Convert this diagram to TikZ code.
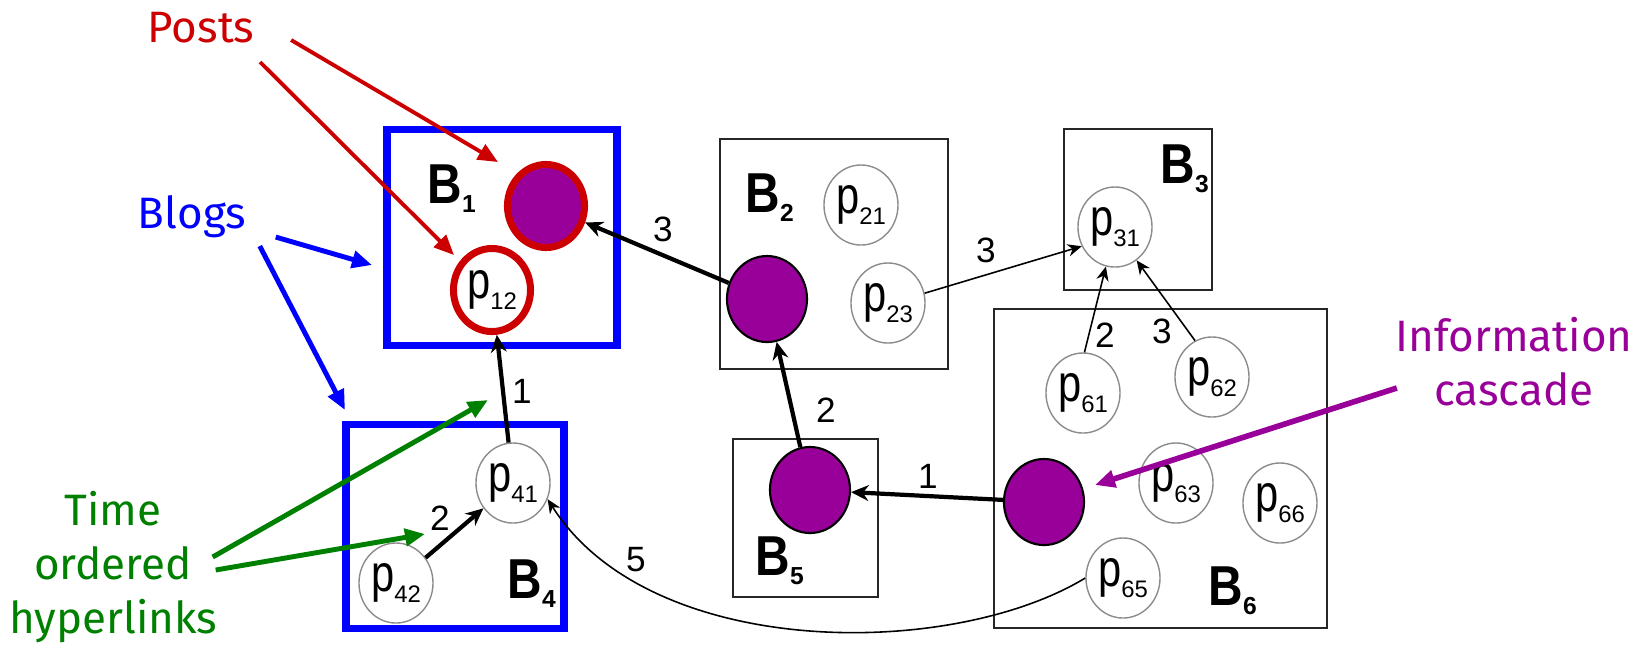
\documentclass[tikz,border=0pt]{standalone}
\usepackage{graphicx}
\usepackage{fontspec}
\setmainfont{Liberation Sans}
\newfontfamily\annfont{Fira Sans}
\usetikzlibrary{shapes, arrows.meta, positioning, calc}
\definecolor{blogblue}{RGB}{0, 0, 255}
\definecolor{postred}{RGB}{204, 0, 0}
\definecolor{linkgreen}{RGB}{0, 128, 0}
\definecolor{cascpurple}{RGB}{153, 0, 153}
\newcommand{\plab}[1]{{\fontsize{14.8pt}{15pt}\selectfont\scalebox{0.8}[1]{p}}\raisebox{-3pt}{\fontsize{6.8pt}{7pt}\selectfont #1}}
\newcommand{\blab}[1]{{\fontsize{16pt}{16pt}\selectfont\bfseries\scalebox{0.85}[1]{B}}\raisebox{-2.8pt}{\fontsize{7pt}{7pt}\selectfont\bfseries #1}}

\begin{document}
\begin{tikzpicture}[
  x=0.01cm, y=-0.01cm,
  blog/.style={draw=black!85, line width=0.7pt},
  myblog/.style={draw=blogblue, line width=2pt},
  post/.style={ellipse, draw=black!45, line width=0.4pt, fill=white, minimum width=0.74cm, minimum height=0.80cm, inner sep=0pt},
  hot/.style={post, draw=black, fill=cascpurple, line width=0.6pt, minimum width=0.80cm, minimum height=0.86cm},
  ring/.style={draw=postred, line width=2pt, minimum width=0.77cm, minimum height=0.83cm},
  blabel/.style={anchor=base west, inner sep=0pt},
  num/.style={font=\fontsize{10pt}{10pt}\selectfont, inner sep=0pt},
  link/.style={-{Stealth[length=5pt, width=4.5pt]}, line width=1.2pt},
  thinlink/.style={-{Stealth[length=4pt, width=3.5pt]}, line width=0.45pt},
  note/.style={font={\annfont\fontsize{12.5pt}{15.4pt}\selectfont}, inner sep=0pt, align=center},
  pointer/.style={-{Triangle[length=0.2cm, width=0.17cm]}, line width=1.4pt}
]
  \useasboundingbox (0,0) rectangle (1650,647);

  % blogs
  \draw[myblog] (387,129) rectangle (617,345);
  \draw[myblog] (346,424) rectangle (564,628);
  \draw[blog] (720,139) rectangle (948,369);
  \draw[blog] (1064,129) rectangle (1212,290);
  \draw[blog] (733,439) rectangle (878,597);
  \draw[blog] (994,309) rectangle (1327,628);

  \node[blabel] (b1) at (427,203) {\blab{1}};
  \node[blabel] (b2) at (745,212) {\blab{2}};
  \node[blabel] (b3) at (1160,183) {\blab{3}};
  \node[blabel] (b4) at (507,598) {\blab{4}};
  \node[blabel] (b5) at (755,575) {\blab{5}};
  \node[blabel] (b6) at (1208,605) {\blab{6}};

  % posts
  \node[hot, ring] (p11) at (546,206) {};
  \node[post, ring] (p12) at (492,290) {\plab{12}};
  \node[post] (p21) at (861,205) {\plab{21}};
  \node[hot] (p22) at (767,299) {};
  \node[post] (p23) at (888,303) {\plab{23}};
  \node[post] (p31) at (1115,227) {\plab{31}};
  \node[post] (p41) at (513,483) {\plab{41}};
  \node[post] (p42) at (396,583) {\plab{42}};
  \node[hot] (p51) at (810,490) {};
  \node[post] (p61) at (1083,393) {\plab{61}};
  \node[post] (p62) at (1212,377) {\plab{62}};
  \node[post] (p63) at (1176,483) {\plab{63}};
  \node[hot] (p64) at (1044,502) {};
  \node[post] (p65) at (1123,578) {\plab{65}};
  \node[post] (p66) at (1280,503) {\plab{66}};

  % hyperlinks
  \draw[link] (p22) -- (p11);
  \draw[link] (p41) -- (p12);
  \draw[link] (p42) -- (p41);
  \draw[link] (p51) -- (p22);
  \draw[link] (p64) -- (p51);
  \draw[thinlink] (p23.15) -- (p31.210);
  \draw[thinlink] (p61.88) -- (p31.-103);
  \draw[thinlink] (p62.115) -- (p31.-57);
  \draw[thinlink] (p65.west) .. controls (950,660) and (650,660) .. (p41.-25);

  \node[num] (n1) at (663,229) {3};
  \node[num] (n2) at (522,391) {1};
  \node[num] (n3) at (440,518) {2};
  \node[num] (n4) at (826,410) {2};
  \node[num] (n5) at (928,476) {1};
  \node[num] (n6) at (986,250) {3};
  \node[num] (n7) at (1105,335) {2};
  \node[num] (n8) at (1162,331) {3};
  \node[num] (n9) at (636,560) {5};

  % annotations
  \node[note, text=postred] (posts) at (201,28) {Posts};
  \node[note, text=blogblue, anchor=base] (blogs) at (192,228) {Blogs};
  \node[note, text=linkgreen] (links) at (113,567) {Time\\ordered\\hyperlinks};
  \node[note, text=cascpurple] (cascade) at (1514,362) {Information\\cascade};

  \coordinate (posts-a) at (498,162);
  \coordinate (posts-b) at (454,255);
  \coordinate (blogs-a) at (372,265);
  \coordinate (blogs-b) at (345,410);
  \coordinate (links-a) at (488,400);
  \coordinate (links-b) at (425,534);
  \coordinate (cascade-a) at (1095,485);

  \draw[pointer, postred, line width=1.1pt] ([shift={(36,12)}]posts.east) -- (posts-a);
  \draw[pointer, postred, line width=1.1pt] ([shift={(5,18)}]posts.south east) -- (posts-b);
  \draw[pointer, blogblue] ([shift={(29,-1)}]blogs.south east) -- (blogs-a);
  \draw[pointer, blogblue] ([shift={(13,8)}]blogs.south east) -- (blogs-b);
  \draw[pointer, linkgreen] ([shift={(-5,-10)}]links.east) -- (links-a);
  \draw[pointer, linkgreen] ([shift={(-2,3)}]links.east) -- (links-b);
  \draw[pointer, cascpurple, line width=1.6pt] ([shift={(2,26)}]cascade.west) -- (cascade-a);
\end{tikzpicture}
\end{document}
